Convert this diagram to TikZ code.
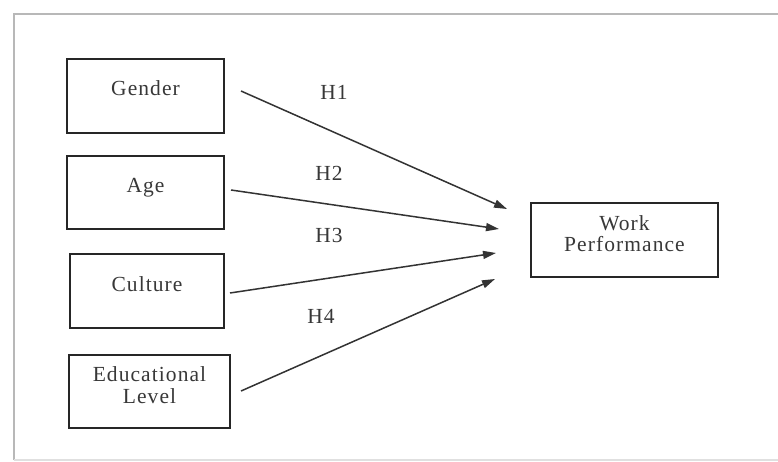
\documentclass[tikz,border=0pt]{standalone}
\usepackage{fontspec}
\setmainfont{Liberation Serif}[LetterSpace=5]
\usetikzlibrary{arrows.meta}
\begin{document}
\begin{tikzpicture}[x=1pt,y=-1pt,
  box/.style={draw=black!85, line width=2.3pt, inner sep=0pt, fill=none},
  txt/.style={text=black!78, font=\fontsize{21.5}{21.5}\selectfont, inner sep=0pt},
  conn/.style={draw=black!80, line width=1.5pt, -{Triangle[length=13pt,width=8pt]}},
  frameline/.style={line width=2.5pt}
]
\useasboundingbox (0,0) rectangle (778,462);
\fill[white] (0,0) rectangle (778,462);
% frame
\draw[frameline, draw=black!28] (14,460) -- (14,14) -- (778,14);
\draw[frameline, draw=black!12] (14,460) -- (778,460);

% boxes
\node[box, minimum width=157pt, minimum height=74pt] (g) at (145.5,96) {};
\node[box, minimum width=157pt, minimum height=73pt] (a) at (145.5,192.5) {};
\node[box, minimum width=154pt, minimum height=74pt] (c) at (147,291) {};
\node[box, minimum width=161pt, minimum height=73pt] (e) at (149.5,391.5) {};
\node[box, minimum width=187pt, minimum height=74pt] (w) at (624.5,240) {};

% texts
\node[txt, anchor=base] (gt) at (g.center) {Gender};
\node[txt, anchor=base] (at) at (a.center) {Age};
\node[txt, anchor=base] (ct) at (c.center) {Culture};
\node[txt, align=center, yshift=6.5pt] (et) at (e.center) {Educational\\Level};
\node[txt, align=center, yshift=6.5pt] (wt) at (w.center) {Work\\Performance};

% connector free ends
\coordinate (s1) at (241,91);
\coordinate (s2) at (231,190);
\coordinate (s3) at (230,293);
\coordinate (s4) at (241,391);
\coordinate (t1) at (507,209);
\coordinate (t2) at (499,229);
\coordinate (t3) at (496,253);
\coordinate (t4) at (495,279);

\draw[conn] (s1) -- (t1);
\draw[conn] (s2) -- (t2);
\draw[conn] (s3) -- (t3);
\draw[conn] (s4) -- (t4);

% labels
\node[txt, anchor=base] (h1) at (334,100) {H1};
\node[txt, anchor=base] (h2) at (329,180.5) {H2};
\node[txt, anchor=base] (h3) at (329,243) {H3};
\node[txt, anchor=base] (h4) at (321,323) {H4};
\end{tikzpicture}
\end{document}
